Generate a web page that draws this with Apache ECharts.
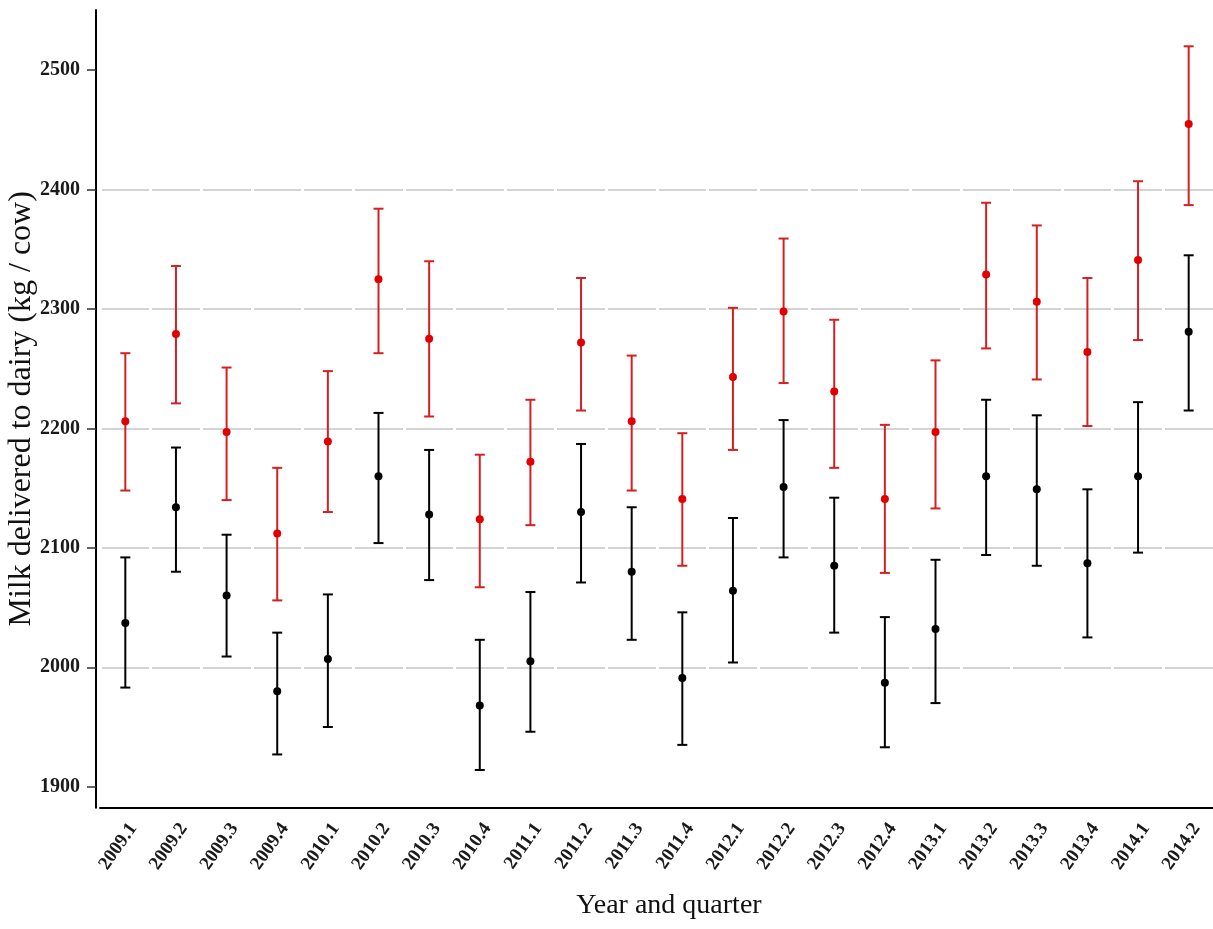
<!DOCTYPE html>
<html>
<head>
<meta charset="utf-8">
<script src="https://cdn.jsdelivr.net/npm/echarts@6/dist/echarts.min.js"></script>
<style>
  html, body { margin: 0; padding: 0; background: #fff; }
  #chart { width: 1213px; height: 929px; }
</style>
</head>
<body>
<div id="chart"></div>
<script>
// 年季度
const categories = ['2009.1', '2009.2', '2009.3', '2009.4', '2010.1', '2010.2', '2010.3', '2010.4',
  '2011.1', '2011.2', '2011.3', '2011.4', '2012.1', '2012.2', '2012.3', '2012.4',
  '2013.1', '2013.2', '2013.3', '2013.4', '2014.1', '2014.2'];

// red group
const redMean = [2206, 2279, 2197, 2112, 2189, 2325, 2275, 2124, 2172, 2272, 2206, 2141, 2243, 2298, 2231, 2141, 2197, 2329, 2306, 2264, 2341, 2455];
const redUpper = [2263, 2336, 2251, 2167, 2248, 2384, 2340, 2178, 2224, 2326, 2261, 2196, 2301, 2359, 2291, 2203, 2257, 2389, 2370, 2326, 2407, 2520];
const redLower = [2148, 2221, 2140, 2056, 2130, 2263, 2210, 2067, 2119, 2215, 2148, 2085, 2182, 2238, 2167, 2079, 2133, 2267, 2241, 2202, 2274, 2387];

// black group
const blackMean = [2037, 2134, 2060, 1980, 2007, 2160, 2128, 1968, 2005, 2130, 2080, 1991, 2064, 2151, 2085, 1987, 2032, 2160, 2149, 2087, 2160, 2281];
const blackUpper = [2092, 2184, 2111, 2029, 2061, 2213, 2182, 2023, 2063, 2187, 2134, 2046, 2125, 2207, 2142, 2042, 2090, 2224, 2211, 2149, 2222, 2345];
const blackLower = [1983, 2080, 2009, 1927, 1950, 2104, 2073, 1914, 1946, 2071, 2023, 1935, 2004, 2092, 2029, 1933, 1970, 2094, 2085, 2025, 2096, 2215];

const yTicks = [1900, 2000, 2100, 2200, 2300, 2400, 2500];

const serif = "'Liberation Serif', 'Times New Roman', serif";

// 误差线
function errorBars(name, color, lower, upper) {
  return {
    type: 'custom',
    name: name,
    silent: true,
    z: 3,
    data: categories.map((c, i) => [i, lower[i], upper[i]]),
    encode: { x: 0, y: [1, 2] },
    renderItem: (params, api) => {
      const x = api.value(0);
      const lo = api.coord([x, api.value(1)]);
      const hi = api.coord([x, api.value(2)]);
      const hw = 5;
      const style = { stroke: color, lineWidth: 2 };
      return {
        type: 'group',
        children: [
          { type: 'line', shape: { x1: hi[0], y1: hi[1], x2: lo[0], y2: lo[1] }, style },
          { type: 'line', shape: { x1: hi[0] - hw, y1: hi[1], x2: hi[0] + hw, y2: hi[1] }, style },
          { type: 'line', shape: { x1: lo[0] - hw, y1: lo[1], x2: lo[0] + hw, y2: lo[1] }, style }
        ]
      };
    }
  };
}

function points(name, color, values) {
  return {
    type: 'scatter',
    name: name,
    data: values,
    symbol: 'circle',
    symbolSize: 8,
    itemStyle: { color: color, opacity: 1 },
    z: 4
  };
}

const chart = echarts.init(document.getElementById('chart'));
chart.setOption({
  animation: false,
  backgroundColor: '#fff',
  grid: { left: 100, top: 10, width: 1114, bottom: 121.3, containLabel: false, outerBoundsMode: 'none' },
  xAxis: {
    type: 'category',
    data: categories,
    z: 1,
    boundaryGap: true,
    name: 'Year and quarter',
    nameLocation: 'middle',
    nameGap: 84,
    nameMoveOverlap: false,
    nameTextStyle: { fontFamily: serif, fontSize: 28, color: '#111', padding: [0, 0, 0, 24] },
    axisLine: { lineStyle: { color: '#000', width: 2 } },
    axisTick: { alignWithLabel: true, length: 9, lineStyle: { color: '#333', width: 1.5 } },
    axisLabel: {
      rotate: 55,
      margin: 12,
      verticalAlign: 'top',
      fontFamily: serif,
      fontWeight: 'bold',
      fontSize: 19,
      color: '#1a1a1a'
    },
    splitLine: { show: true, lineStyle: { color: '#fff', width: 3 } }
  },
  yAxis: {
    type: 'value',
    min: 1882.4,
    max: 2550.4,
    offset: 4,
    z: 0,
    name: 'Milk delivered to dairy (kg / cow)',
    nameLocation: 'middle',
    nameRotate: 90,
    nameGap: 58,
    nameMoveOverlap: false,
    nameTextStyle: { fontFamily: serif, fontSize: 32, color: '#111' },
    axisLine: { show: true, lineStyle: { color: '#000', width: 2 } },
    axisTick: { show: true, length: 9, customValues: yTicks, lineStyle: { color: '#333', width: 1.5 } },
    axisLabel: {
      customValues: yTicks,
      formatter: (v) => String(v),
      margin: 16,
      fontFamily: serif,
      fontWeight: 'bold',
      fontSize: 20,
      color: '#1a1a1a'
    },
    splitLine: { show: true, showMinLine: false, showMaxLine: false, lineStyle: { color: '#d4d4d4', width: 2 } }
  },
  series: [
    errorBars('red bars', '#d42020', redLower, redUpper),
    points('red', '#e00000', redMean),
    errorBars('black bars', '#000', blackLower, blackUpper),
    points('black', '#000', blackMean)
  ]
});
</script>
</body>
</html>
